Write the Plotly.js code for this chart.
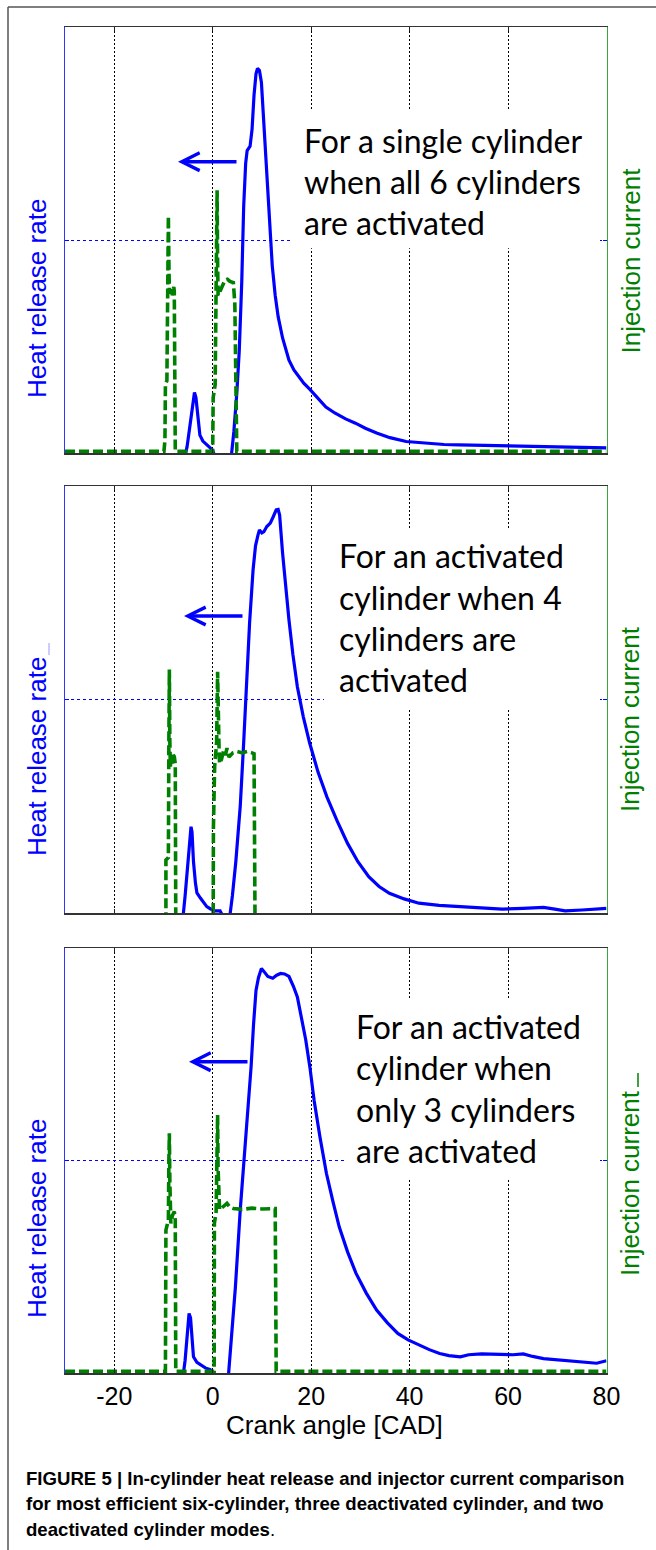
<!DOCTYPE html>
<html><head><meta charset="utf-8">
<script src="https://cdn.plot.ly/plotly-3.0.1.min.js"></script>
<style>html,body{margin:0;padding:0;background:#fff}#chart{width:656px;height:1550px}</style>
</head><body><div id="chart"></div>
<script>
// ---------- DATA ----------
const crankTicks = [-20, 0, 20, 40, 60, 80];
const crankTickText = ['-20', '0', '20', '40', '60', '80'];

// Panel 1: single cylinder, all 6 cylinders active
const hrr1Cad = [-30,-5.6,-5.2,-4.6,-4.0,-3.7,-3.4,-3.0,-2.6,-2.0,-1.2,-0.5,0,0.4,3.8,4.3,4.9,5.4,5.9,6.3,6.7,7.0,7.6,8.0,8.4,8.8,9.1,9.5,9.9,10.3,10.7,11.2,11.7,12.1,12.7,13.3,14.2,15.5,16.5,17.5,18.5,19.7,21.5,23,24.8,27,29,31,33.3,36,39.3,43,47,50,55,60,65,70,75,80];
const hrr1Val = [-0.6,-0.6,1.5,7,12.5,14.2,13,8,4.2,2.8,1.8,1.2,0.6,-0.6,-0.6,5,14,24,40,58,68,71,72,76,84,89,90.3,89.8,87,79,69,59,50,44,37,32,27,21.8,19.5,17.8,16.4,15.0,12.8,10.8,9.4,8,7,5.8,4.7,3.6,2.7,2.3,2.0,1.9,1.8,1.6,1.5,1.4,1.3,1.2];
const inj1Cad = [-30,-9.9,-9.7,-9.6,-9.3,-9.1,-9.0,-8.9,-8.8,-8.6,-8.4,-8.2,-7.9,-7.8,-7.6,0.0,0.1,0.5,0.7,0.9,1.0,1.1,1.5,2.0,2.5,3.0,3.5,4.2,4.5,4.9,80];
const inj1Val = [0.4,0.4,3,16,17,40,55.6,45,38,37.5,39,37,39,38,0.4,0.4,13,16,40,61.7,45,37,38,39.5,40.6,40.8,40.3,40,35,0.4,0.4];

// Panel 2: activated cylinder, 4 cylinders active
const hrr2Cad = [-30,-6.0,-5.6,-5.0,-4.6,-4.4,-4.2,-3.9,-3.5,-3.2,-2.5,-1.8,-1.2,-0.5,0.5,1.5,2.0,3.5,4.0,4.7,5.6,6.3,6.9,7.5,8.2,8.7,9.2,9.5,10.0,10.4,11.0,11.7,12.3,12.9,13.3,13.6,14.2,14.8,15.5,16.3,17.2,18.4,19.7,21.4,23.2,25.3,27.4,29.5,31.7,33.8,35.9,38.9,41.9,46,50.3,54.5,58.8,63,67.2,69.5,71.6,75,78,80];
const hrr2Val = [-0.6,-0.6,4,12,18,20.2,19,12,7,4.7,3.5,2.3,1.5,1.0,0.5,0.5,-0.6,-0.6,4,12,25,40,56,68,80.3,86,88.5,89.7,89,89.3,90.5,91.3,92.8,94.4,94.5,93.2,84.3,76,68.6,60.5,53,46,39.8,33,27.2,21.5,16.3,12,8.5,6.2,4.6,3.3,2.3,1.8,1.5,1.1,0.9,1.1,1.3,0.9,0.5,0.7,0.9,1.1];
const inj2Cad = [-30,-9.5,-9.5,-9.0,-8.9,-8.8,-8.7,-8.6,-8.4,-8.2,-8.0,-7.8,-7.6,-7.5,0.1,0.15,0.4,0.8,1.0,1.1,1.3,1.4,1.8,2.2,2.6,2.9,3.3,4.1,5,6,7,8,8.4,8.6,80];
const inj2Val = [-1.5,-1.5,12.4,13,40,57,40,34.3,37,35,37,36.6,35,-1.5,-1.5,20,34.3,40,56.5,45,38,35,36,38,37,38.6,36.5,37.5,37.8,37.5,37.8,37.5,37.3,-1.5,-1.5];

// Panel 3: activated cylinder, only 3 cylinders active
const hrr3Cad = [-30,-6.0,-5.6,-5.1,-4.8,-4.5,-4.2,-3.9,-3.2,-2.5,-1.5,-0.5,0.4,3.2,3.8,4.6,5.6,6.5,7.3,7.8,8.3,8.8,9.3,9.9,10.4,11.2,12.2,13.0,13.8,14.6,15.5,16.4,17.2,18.0,18.9,19.8,20.6,21.8,23.1,24.4,25.7,27.4,29.1,31.2,33.3,35.5,37.6,39.7,41.8,44,46.1,48,50.3,52,54.6,58.8,61,63.1,65,67.2,71.5,75.8,78,80];
const hrr3Val = [-0.6,-0.6,3,10,14,13,7,3.8,2.5,1.9,1.2,0.8,-0.6,-0.6,8,20,38.4,52,64,72,82,90,93,95.2,94.5,93.3,92.9,93.6,94,93.9,93.3,91,88.5,84,78.4,71.5,64.2,55.5,47,40.5,34.4,28.5,23.5,18.8,14.8,11.8,9.3,7.8,6.6,5.5,4.6,4.1,3.8,4.3,4.5,4.3,4.3,4.5,3.9,3.4,2.9,2.4,2.3,2.9];
const inj3Cad = [-30,-9.6,-9.5,-9.0,-8.9,-8.8,-8.7,-8.5,-8.2,-7.8,-7.6,-7.5,0.3,0.35,0.7,0.9,1.0,1.1,1.3,1.4,2.0,2.9,3.5,4.2,6,8,10,12,12.7,12.9,80];
const inj3Val = [0.4,0.4,33.6,36,50,56.4,45,35.2,37,38,36,0.4,0.4,35.2,38,55,60.7,48,40,38.4,39,39.9,39,38.7,38.5,38.8,38.6,38.7,38.7,0.4,0.4];

const noteLines = [
  ['For a single cylinder', 'when all 6 cylinders', 'are activated'],
  ['For an activated', 'cylinder when 4', 'cylinders are', 'activated'],
  ['For an activated', 'cylinder when', 'only 3 cylinders', 'are activated']
];
const leftLabels = ['Heat release rate', 'Heat release rate', 'Heat release rate'];
const rightLabels = ['Injection current', 'Injection current', 'Injection current'];
const xTitle = 'Crank angle [CAD]';
const captionLines = [
  '<b>FIGURE 5 | In-cylinder heat release and injector current comparison</b>',
  '<b>for most efficient six-cylinder, three deactivated cylinder, and two</b>',
  '<b>deactivated cylinder modes</b>.'
];

// ---------- LAYOUT GEOMETRY ----------
const W = 656, H = 1550;
const px = v => v / W, py = v => 1 - v / H;
const plotL = 65, plotR = 606.5;
const panels = [ {top: 27, bot: 453}, {top: 486, bot: 913}, {top: 948, bot: 1373} ];
const BLUE = 'rgb(0,0,255)', GREEN = '#008000', GREENAX = '#3aa53a';
const FONT = 'Liberation Sans, Arial, sans-serif';
const NOTEFONT = 'Lato, Carlito, sans-serif';

const hrrCad = [hrr1Cad, hrr2Cad, hrr3Cad], hrrVal = [hrr1Val, hrr2Val, hrr3Val];
const injCad = [inj1Cad, inj2Cad, inj3Cad], injVal = [inj1Val, inj2Val, inj3Val];

const data = [];
const layout = {
  width: W, height: H, margin: {l: 0, r: 0, t: 0, b: 0},
  paper_bgcolor: '#fff', plot_bgcolor: '#fff', showlegend: false,
  annotations: [], shapes: []
};

const noteLeft = [303.3, 338, 354.8];
const noteFirst = [140, 556, 1026.6];
const noteStep = 41.2;
const noteBox = [ {l: 291.7, t: 110, b: 248.3}, {l: 324, t: 528, b: 708}, {l: 344, t: 1000, b: 1178} ];
const arrows = [ {tip: 178, tail: 238, y: 161.7}, {tip: 184, tail: 244, y: 616}, {tip: 189, tail: 249, y: 1061.7} ];
const leftLabelY = [298.5, 756.5, 1218.5];
const rightLabelY = [260.5, 719, 1183];

panels.forEach((p, i) => {
  const xn = i === 0 ? '' : String(i + 1);
  const yA = String(2 * i + 1), yB = String(2 * i + 2);
  const yAn = yA === '1' ? '' : yA;
  const xref = 'x' + xn, yrefA = 'y' + yAn, yrefB = 'y' + yB;
  const toCad = v => -30 + (v - plotL) / (plotR - plotL) * 110;
  const toVal = v => (p.bot - v) / (p.bot - p.top) * 100;

  data.push({x: hrrCad[i], y: hrrVal[i], xaxis: xref, yaxis: yrefA, type: 'scatter', mode: 'lines',
    line: {color: BLUE, width: 3.2}, hoverinfo: 'skip'});
  data.push({x: injCad[i], y: injVal[i], xaxis: xref, yaxis: yrefB, type: 'scatter', mode: 'lines',
    line: {color: GREEN, width: 3.6, dash: '10px,4px'}, hoverinfo: 'skip'});

  const dom = [py(p.bot), py(p.top)];
  layout['xaxis' + xn] = {
    domain: [px(plotL), px(plotR)], range: [-30, 80], anchor: yrefA,
    tickvals: crankTicks, ticktext: crankTickText, showticklabels: i === 2,
    tickfont: {family: FONT, size: 25, color: '#000'},
    ticks: 'inside', ticklen: 4, tickcolor: '#222', mirror: 'ticks',
    showline: true, linecolor: '#333', linewidth: 1.5,
    showgrid: true, gridcolor: '#000', griddash: '2px,2px', gridwidth: 1, zeroline: false, fixedrange: true
  };
  layout['yaxis' + yAn] = {
    domain: dom, range: [0, 100], anchor: xref, tickvals: [50], showticklabels: false,
    ticks: 'inside', ticklen: 4, tickcolor: BLUE,
    showline: true, linecolor: '#3333ff', linewidth: 1,
    showgrid: true, gridcolor: BLUE, griddash: '3px,3px', gridwidth: 1, zeroline: false, fixedrange: true
  };
  layout['yaxis' + yB] = {
    domain: dom, range: [0, 100], anchor: xref, overlaying: yrefA, side: 'right',
    tickvals: [50], showticklabels: false, ticks: 'inside', ticklen: 4, tickcolor: BLUE,
    showline: true, linecolor: GREENAX, linewidth: 1, showgrid: false, zeroline: false, fixedrange: true
  };

  // white box behind the note (hides the grid)
  const bx = noteBox[i];
  layout.shapes.push({type: 'rect', layer: 'between', xref: xref, yref: yrefA,
    x0: toCad(bx.l), x1: toCad(600), y0: toVal(bx.b), y1: toVal(bx.t),
    fillcolor: '#fff', line: {width: 0}});

  noteLines[i].forEach((t, k) => {
    layout.annotations.push({text: t, xref: 'paper', yref: 'paper', x: px(noteLeft[i]), y: py(noteFirst[i] + k * noteStep),
      xanchor: 'left', yanchor: 'middle', showarrow: false, borderpad: 0,
      font: {family: NOTEFONT, size: 32, color: '#000'}});
  });

  const a = arrows[i];
  layout.annotations.push({text: '', xref: xref, yref: yrefA, axref: xref, ayref: yrefA,
    x: toCad(a.tip), y: toVal(a.y), ax: toCad(a.tail), ay: toVal(a.y),
    showarrow: true, arrowhead: 5, arrowsize: 1, arrowwidth: 3.5, arrowcolor: BLUE, standoff: 0});

  layout.annotations.push({text: leftLabels[i], xref: 'paper', yref: 'paper', x: px(36.6), y: py(leftLabelY[i]),
    xanchor: 'center', yanchor: 'middle', textangle: -90, showarrow: false,
    font: {family: FONT, size: 26, color: BLUE}});
  layout.annotations.push({text: rightLabels[i], xref: 'paper', yref: 'paper', x: px(630), y: py(rightLabelY[i]),
    xanchor: 'center', yanchor: 'middle', textangle: -90, showarrow: false,
    font: {family: FONT, size: 26, color: GREEN}});
});

layout.annotations.push({text: xTitle, xref: 'paper', yref: 'paper', x: px(335), y: py(1425),
  xanchor: 'center', yanchor: 'middle', showarrow: false, font: {family: FONT, size: 26, color: '#000'}});

const capY = [1478, 1503, 1529];
captionLines.forEach((t, k) => {
  layout.annotations.push({text: t, xref: 'paper', yref: 'paper', x: px(25), y: py(capY[k]),
    xanchor: 'left', yanchor: 'middle', showarrow: false, borderpad: 0,
    font: {family: FONT, size: 18.6, color: '#000'}});
});

// outer figure frame (left and top edges)
layout.shapes.push({type: 'line', xref: 'paper', yref: 'paper', x0: px(8), x1: px(8), y0: 0, y1: py(7), line: {color: '#555', width: 1.5}});
layout.shapes.push({type: 'line', xref: 'paper', yref: 'paper', x0: px(8), x1: 1, y0: py(7), y1: py(7), line: {color: '#555', width: 1.5}});
// small stray marks next to axis labels
layout.shapes.push({type: 'line', xref: 'paper', yref: 'paper', x0: px(49), x1: px(49), y0: py(655), y1: py(643), line: {color: '#9999ff', width: 1}});
layout.shapes.push({type: 'line', xref: 'paper', yref: 'paper', x0: px(638), x1: px(638), y0: py(1087), y1: py(1073), line: {color: GREEN, width: 1.5}});

Plotly.newPlot('chart', data, layout, {staticPlot: true, displayModeBar: false});
</script>
</body></html>
